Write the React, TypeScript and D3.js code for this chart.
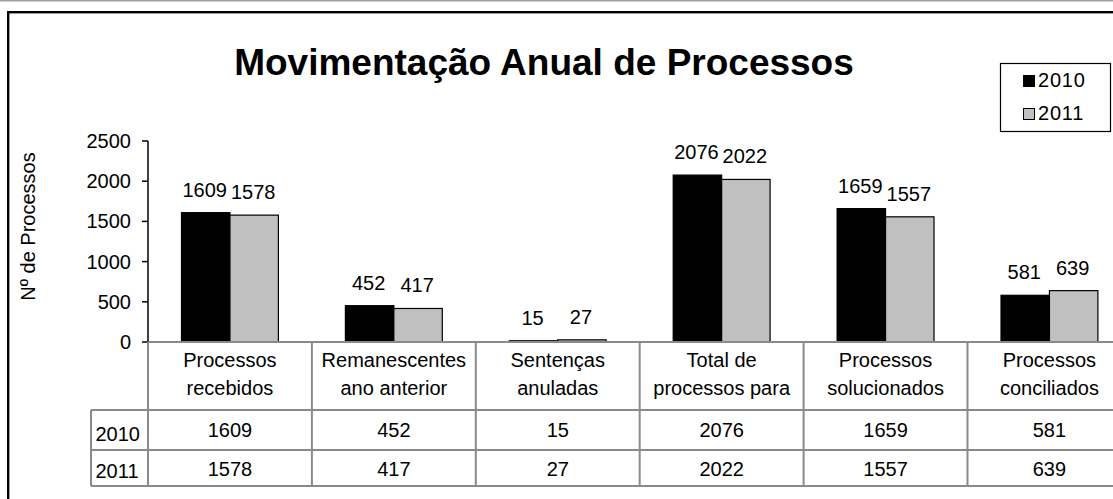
import React from "react";
import * as d3 from "d3";

const categories = [
  ["Processos", "recebidos"],
  ["Remanescentes", "ano anterior"],
  ["Sentenças", "anuladas"],
  ["Total de", "processos para"],
  ["Processos", "solucionados"],
  ["Processos", "conciliados"],
];
const seriesNames = ["2010", "2011"];
const values2010 = [1609, 452, 15, 2076, 1659, 581];
const values2011 = [1578, 417, 27, 2022, 1557, 639];
const yTicks = [0, 500, 1000, 1500, 2000, 2500];
const title = "Movimentação Anual de Processos";
const yTitle = "Nº de Processos";

const seriesValues = [values2010, values2011];
const seriesFill = ["#000000", "#c0c0c0"];

const W = 1113;
const H = 499;
const FONT = "'Liberation Sans', Arial, sans-serif";
const GRID = "#8a8a8a";

export default function App() {
  const catIdx = categories.map((_, i) => String(i));
  const plotLeft = 148;
  const band = 163.9;
  const x = d3
    .scaleBand<string>()
    .domain(catIdx)
    .range([plotLeft, plotLeft + band * categories.length]);
  const pad = 33.5;
  const xs = d3
    .scaleBand<string>()
    .domain(seriesNames)
    .range([pad, band - pad]);
  const y = d3.scaleLinear().domain([0, 2500]).range([342, 141]);

  const tableLeft = 91;
  const tableRight = plotLeft + band * categories.length;
  const rowTop = y(0);
  const row1 = 410;
  const row2 = 450;
  const row3 = 486;

  return (
    <div style={{ position: "absolute", left: 0, top: 0 }}>
      <svg width={W} height={H} style={{ display: "block" }} fontFamily={FONT}>
        <rect x={0} y={0} width={W} height={H} fill="#ffffff" />
        <line x1={0} x2={W} y1={0.7} y2={0.7} stroke="#a0a0a0" strokeWidth={1.6} />
        <rect x={8.2} y={12.2} width={1300} height={700} fill="none" stroke="#000" strokeWidth={2.4} />

        <text x={544} y={75} textAnchor="middle" fontSize={37} fontWeight="bold" fill="#000">
          {title}
        </text>

        {/* legend */}
        <rect x={1000.5} y={63.5} width={110} height={68} fill="#fff" stroke="#000" strokeWidth={1.2} />
        {seriesNames.map((s, i) => (
          <g key={s}>
            <rect
              x={1023.5}
              y={75.5 + i * 33}
              width={11}
              height={11}
              fill={seriesFill[i]}
              stroke="#000"
              strokeWidth={1}
            />
            <text x={1038} y={87 + i * 33} fontSize={20} fill="#000" letterSpacing={0.8}>
              {s}
            </text>
          </g>
        ))}

        {/* y-axis title */}
        <text
          transform={`translate(35,226.5) rotate(-90)`}
          textAnchor="middle"
          fontSize={20}
          fill="#000"
        >
          {yTitle}
        </text>

        {/* bars */}
        {categories.map((_, ci) => (
          <g key={ci} transform={`translate(${x(String(ci))},0)`}>
            {seriesNames.map((s, si) => {
              const v = seriesValues[si][ci];
              const bx = xs(s)!;
              const bw = xs.bandwidth();
              return (
                <g key={s}>
                  <rect
                    x={bx}
                    y={y(v)}
                    width={bw}
                    height={y(0) - y(v)}
                    fill={seriesFill[si]}
                    stroke="#000"
                    strokeWidth={1.2}
                  />
                  <text
                    x={bx + bw / 2 - 1}
                    y={y(v) - 16}
                    textAnchor="middle"
                    fontSize={20}
                    fill="#000"
                  >
                    {v}
                  </text>
                </g>
              );
            })}
          </g>
        ))}

        {/* y axis */}
        <line x1={plotLeft} x2={plotLeft} y1={y(2500)} y2={y(0)} stroke="#000" strokeWidth={1.5} />
        {yTicks.map((t) => (
          <g key={t}>
            <line x1={plotLeft - 6} x2={plotLeft} y1={y(t)} y2={y(t)} stroke="#000" strokeWidth={1.5} />
            <text x={131} y={y(t) + 7} textAnchor="end" fontSize={20} fill="#000">
              {t}
            </text>
          </g>
        ))}

        {/* data table */}
        <g stroke={GRID} strokeWidth={2} fill="none">
          <line x1={plotLeft} x2={tableRight} y1={rowTop} y2={rowTop} />
          <line x1={tableLeft} x2={tableRight} y1={row1} y2={row1} />
          <line x1={tableLeft} x2={tableRight} y1={row2} y2={row2} />
          <line x1={tableLeft} x2={tableRight} y1={row3} y2={row3} />
          <line x1={tableLeft} x2={tableLeft} y1={row1} y2={row3} />
          {d3.range(categories.length + 1).map((i) => (
            <line
              key={i}
              x1={plotLeft + band * i}
              x2={plotLeft + band * i}
              y1={rowTop}
              y2={row3}
            />
          ))}
        </g>
        {categories.map((lines, ci) => {
          const cx = x(String(ci))! + x.bandwidth() / 2;
          return (
            <g key={ci}>
              <text x={cx} y={367} textAnchor="middle" fontSize={20} fill="#000">
                {lines[0]}
              </text>
              <text x={cx} y={395} textAnchor="middle" fontSize={20} fill="#000">
                {lines[1]}
              </text>
              <text x={cx} y={437} textAnchor="middle" fontSize={20} fill="#000">
                {values2010[ci]}
              </text>
              <text x={cx} y={476} textAnchor="middle" fontSize={20} fill="#000">
                {values2011[ci]}
              </text>
            </g>
          );
        })}
        <text x={95.5} y={441} fontSize={20} fill="#000">
          {seriesNames[0]}
        </text>
        <text x={95.5} y={478} fontSize={20} fill="#000">
          {seriesNames[1]}
        </text>
      </svg>
    </div>
  );
}
